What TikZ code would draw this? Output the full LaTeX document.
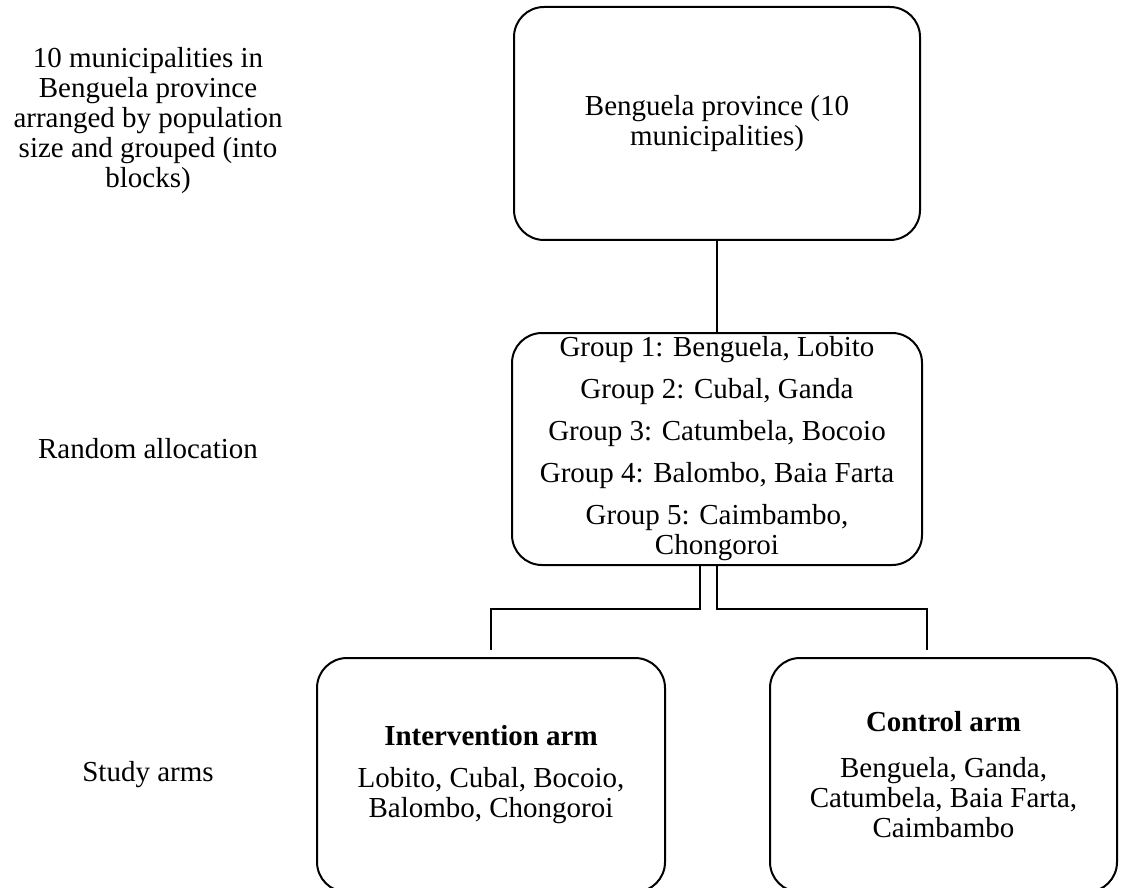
\documentclass[tikz,border=0pt]{standalone}
\usepackage{fontspec}
\setmainfont{Liberation Serif}
\usetikzlibrary{positioning}
\tikzset{
  box/.style={draw, line width=1pt, rounded corners=15pt, align=center, inner sep=0pt},
  side/.style={align=center},
  link/.style={line width=1pt}
}

\begin{document}
\begin{tikzpicture}[x=0.5pt,y=-0.5pt,font=\fontsize{14.5}{15}\selectfont]
\useasboundingbox (0,0) rectangle (1127,887);

% Boxes of the flow
\node[box, minimum width=203pt, minimum height=116.5pt] (prov) at (717,123.5)
  {Benguela province (10\\municipalities)};
\node[box, minimum width=205pt, minimum height=116pt] (grp) at (717,449)
  {Group 1: Benguela, Lobito\\[6pt]Group 2: Cubal, Ganda\\[6pt]Group 3: Catumbela, Bocoio\\[6pt]Group 4: Balombo, Baia Farta\\[6pt]Group 5: Caimbambo,\\Chongoroi};
\node[box, minimum width=174pt, minimum height=117pt] (interv) at (491,775)
  {\bfseries Intervention arm\\[6pt]Lobito, Cubal, Bocoio,\\Balombo, Chongoroi};
\node[box, minimum width=173.5pt, minimum height=117pt] (ctrl) at (943.5,775)
  {\bfseries Control arm\\[8pt]Benguela, Ganda,\\Catumbela, Baia Farta,\\Caimbambo};

% Labels on the left
\node[side] (lblprov) at (148,121) {10 municipalities in\\Benguela province\\arranged by population\\size and grouped (into\\blocks)};
\node[side] (lblrand) at (148,449) {Random allocation};
\node[side] (lblarms) at (148,775) {Study arms};

% Connectors
\coordinate (lsplit) at ([xshift=-8.5pt]grp.south);
\coordinate (lend) at (491,650);
\coordinate (rend) at (927,650);
\draw[link] (prov) -- (grp);
\draw[link] (lsplit) -- ++(0,43) -| (lend);
\draw[link] (grp.south) -- ++(0,43) -| (rend);
\end{tikzpicture}
\end{document}
